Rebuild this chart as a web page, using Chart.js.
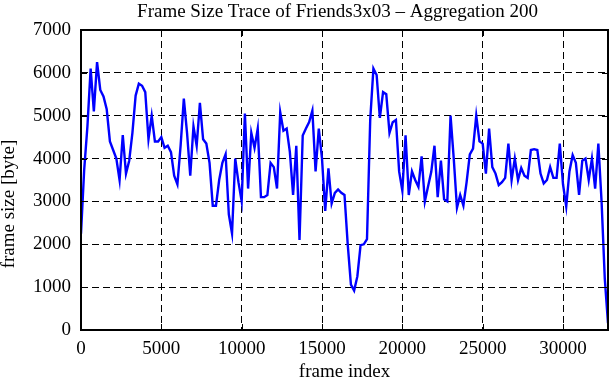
<!DOCTYPE html>
<html>
<head>
<meta charset="utf-8">
<script src="https://cdn.jsdelivr.net/npm/chart.js@4.4.1/dist/chart.umd.min.js"></script>
<style>
  html, body { margin: 0; padding: 0; background: #fff; }
  #wrap { width: 611px; height: 380px; }
</style>
</head>
<body>
<div id="wrap"><canvas id="trace"></canvas></div>
<script>
// frame index of every aggregated point (window of 200 frames)
const frameIndex = [
    0,   200,   400,   600,   800,  1000,  1200,  1400,  1600,  1800,
 2000,  2200,  2400,  2600,  2800,  3000,  3200,  3400,  3600,  3800,
 4000,  4200,  4400,  4600,  4800,  5000,  5200,  5400,  5600,  5800,
 6000,  6200,  6400,  6600,  6800,  7000,  7200,  7400,  7600,  7800,
 8000,  8200,  8400,  8600,  8800,  9000,  9200,  9400,  9600,  9800,
10000, 10200, 10400, 10600, 10800, 11000, 11200, 11400, 11600, 11800,
12000, 12200, 12400, 12600, 12800, 13000, 13200, 13400, 13600, 13800,
14000, 14200, 14400, 14600, 14800, 15000, 15200, 15400, 15600, 15800,
16000, 16200, 16400, 16600, 16800, 17000, 17200, 17400, 17600, 17800,
18000, 18200, 18400, 18600, 18800, 19000, 19200, 19400, 19600, 19800,
20000, 20200, 20400, 20600, 20800, 21000, 21200, 21400, 21600, 21800,
22000, 22200, 22400, 22600, 22800, 23000, 23200, 23400, 23600, 23800,
24000, 24200, 24400, 24600, 24800, 25000, 25200, 25400, 25600, 25800,
26000, 26200, 26400, 26600, 26800, 27000, 27200, 27400, 27600, 27800,
28000, 28200, 28400, 28600, 28800, 29000, 29200, 29400, 29600, 29800,
30000, 30200, 30400, 30600, 30800, 31000, 31200, 31400, 31600, 31800,
32000, 32200, 32400, 32600, 32800
];

// frame size in byte
const frameSize = [
2250, 3750, 4750, 6100, 5100, 6250, 5600, 5450, 5150, 4400,
4200, 4000, 3500, 4550, 3650, 3950, 4600, 5470, 5750, 5700,
5550, 4450, 5000, 4400, 4400, 4500, 4250, 4300, 4150, 3600,
3400, 4300, 5400, 4600, 3600, 4750, 4300, 5300, 4450, 4350,
3900, 2900, 2900, 3500, 3900, 4100, 2700, 2250, 4000, 3450,
3000, 5050, 3300, 4600, 4250, 4700, 3100, 3100, 3150, 3900,
3800, 3300, 5080, 4650, 4700, 4150, 3150, 4300, 2100, 4540,
4700, 4850, 5120, 3700, 4700, 4000, 2780, 3770, 2950, 3200,
3280, 3200, 3150, 2000, 1060,  920, 1250, 1980, 2000, 2120,
4900, 6100, 5950, 4950, 5550, 5500, 4600, 4850, 4900, 3700,
3250, 4540, 3150, 3700, 3500, 3340, 4050, 3000, 3350, 3690,
4300, 3100, 3950, 3050, 3000, 5000, 4000, 2850, 3150, 2900,
3450, 4100, 4230, 5000, 4400, 4350, 3650, 4700, 3800, 3650,
3380, 3450, 3550, 4350, 3500, 4000, 3500, 3780, 3600, 3550,
4200, 4220, 4200, 3650, 3420, 3500, 3800, 3550, 3550, 4350,
3400, 2880, 3700, 4080, 3900, 3150, 3950, 4000, 3500, 4000,
3300, 4350, 3000, 1200,  160
];

const xTicks = [0, 5000, 10000, 15000, 20000, 25000, 30000];
const yTicks = [0, 1000, 2000, 3000, 4000, 5000, 6000, 7000];

const chartTitle = 'Frame Size Trace of Friends3x03 \u2013 Aggregation 200';
const xTitle = 'frame index';
const yTitle = 'frame size [byte]';

const serif = '"Liberation Serif", "Times New Roman", serif';

// gnuplot-like frame, inward ticks and the three titles
const gnuplotFrame = {
    id: 'gnuplotFrame',
    afterDraw(chart) {
        const { ctx, chartArea: a, scales } = chart;
        ctx.save();
        ctx.strokeStyle = '#000';
        ctx.setLineDash([]);
        ctx.lineWidth = 1;
        ctx.beginPath();
        xTicks.forEach(v => {
            const px = Math.round(scales.x.getPixelForValue(v)) + 0.5;
            ctx.moveTo(px, a.bottom); ctx.lineTo(px, a.bottom - 6);
            ctx.moveTo(px, a.top); ctx.lineTo(px, a.top + 6);
        });
        yTicks.forEach(v => {
            const py = Math.round(scales.y.getPixelForValue(v)) + 0.5;
            ctx.moveTo(a.left, py); ctx.lineTo(a.left + 6, py);
            ctx.moveTo(a.right, py); ctx.lineTo(a.right - 6, py);
        });
        ctx.stroke();

        ctx.lineWidth = 2;
        ctx.strokeRect(a.left, a.top, a.right - a.left, a.bottom - a.top);

        ctx.fillStyle = '#000';
        ctx.textAlign = 'center';
        ctx.textBaseline = 'middle';
        const midX = (a.left + a.right) / 2;
        ctx.font = '19px ' + serif;
        ctx.fillText(chartTitle, midX - 7, 12);
        ctx.fillText(xTitle, midX, a.bottom + 42);
        ctx.translate(9, a.top + (a.bottom - a.top) * 0.58);
        ctx.rotate(-Math.PI / 2);
        ctx.fillText(yTitle, 0, 0);
        ctx.restore();
    }
};

const plainNumber = v => String(v);

new Chart(document.getElementById('trace'), {
    type: 'line',
    data: {
        labels: frameIndex,
        datasets: [{
            data: frameIndex.map((f, i) => ({ x: f, y: frameSize[i] })),
            borderColor: '#0000ff',
            borderWidth: 2.4,
            pointRadius: 0,
            tension: 0,
            fill: false
        }]
    },
    options: {
        responsive: true,
        maintainAspectRatio: false,
        animation: false,
        layout: { padding: { top: 30, right: 3, left: 0, bottom: 0 } },
        plugins: {
            legend: { display: false },
            title: { display: false },
            tooltip: { enabled: false }
        },
        scales: {
            x: {
                type: 'linear',
                min: 0,
                max: 32800,
                afterBuildTicks: scale => { scale.ticks = xTicks.map(v => ({ value: v })); },
                afterFit: scale => { scale.height = 50; },
                ticks: {
                    color: '#000',
                    font: { family: serif, size: 19 },
                    padding: 8,
                    maxRotation: 0,
                    autoSkip: false,
                    callback: plainNumber
                },
                grid: { color: '#000', lineWidth: 1, drawTicks: false },
                border: { display: false, dash: [7, 4] }
            },
            y: {
                min: 0,
                max: 7000,
                afterBuildTicks: scale => { scale.ticks = yTicks.map(v => ({ value: v })); },
                afterFit: scale => { scale.width = 81; },
                ticks: {
                    color: '#000',
                    font: { family: serif, size: 19 },
                    padding: 10,
                    callback: plainNumber
                },
                grid: { color: '#000', lineWidth: 1, drawTicks: false },
                border: { display: false, dash: [7, 4] }
            }
        }
    },
    plugins: [gnuplotFrame]
});
</script>
</body>
</html>
